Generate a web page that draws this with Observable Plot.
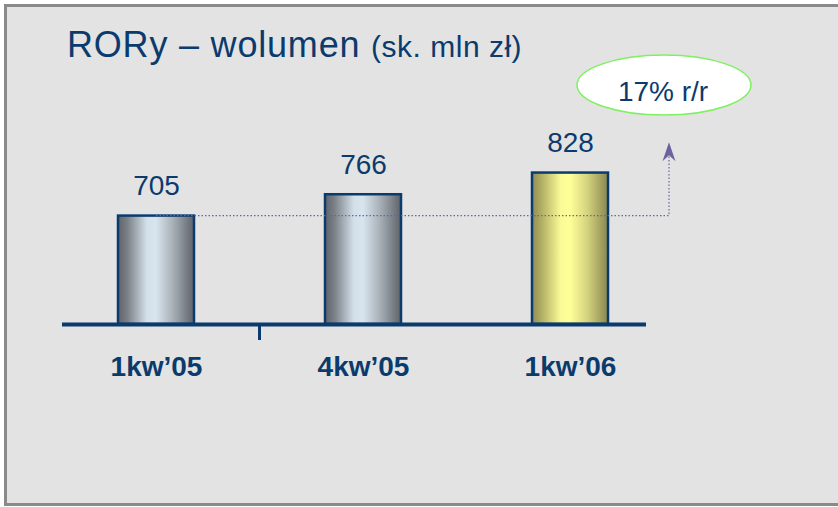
<!DOCTYPE html>
<html>
<head>
<meta charset="utf-8">
<script src="https://cdn.jsdelivr.net/npm/d3@7"></script>
<script src="https://cdn.jsdelivr.net/npm/@observablehq/plot@0.6"></script>
<style>
  html, body { margin: 0; padding: 0; background: #ffffff; }
  #wrap { position: relative; width: 838px; height: 507px; overflow: hidden; font-family: "Liberation Sans", Arial, sans-serif; }
  #panel { position: absolute; left: 4px; top: 4px; width: 840px; height: 502px; box-sizing: border-box;
           background: #e3e3e3; border-top: 3px solid #8a8a8a; border-left: 3px solid #8a8a8a; border-bottom: 3px solid #8a8a8a; }
  #title { position: absolute; left: 67px; top: 27px; font-size: 36px; line-height: 36px; color: #0b3b6d; white-space: nowrap; letter-spacing: 0.8px; }
  #title span { font-size: 30px; letter-spacing: 0.5px; }
  #chart { position: absolute; left: 0; top: 0; }
</style>
</head>
<body>
<div id="wrap">
  <div id="panel"></div>
  <div id="chart"></div>
  <div id="title">RORy – wolumen <span>(sk. mln zł)</span></div>
</div>
<script>
// ---- data ----
const categories = ["1kw’05", "4kw’05", "1kw’06"];
const volumes = [705, 766, 828];
const yBase = 395;          // value at the drawn baseline (axis does not start at 0)
const yTop = 1207;
const growthLabel = Math.round((volumes[2] / volumes[0] - 1) * 100) + "% r/r";

const navy = "#0b3b6d";
const data = categories.map((c, i) => ({cat: c, value: volumes[i]}));
const latest = categories[categories.length - 1];

const plot = Plot.plot({
  width: 838,
  height: 507,
  marginLeft: 62,
  marginRight: 192,
  marginTop: 40,
  marginBottom: 183,
  style: {background: "transparent", fontFamily: "'Liberation Sans', Arial, sans-serif", overflow: "visible"},
  x: {domain: categories, paddingInner: 0.633, paddingOuter: 0.227, align: 0.596, label: null},
  y: {domain: [yBase, yTop], axis: null},
  marks: [
    Plot.barY(data, {
      x: "cat", y1: yBase, y2: "value",
      fill: d => d.cat === latest ? "url(#gradYellow)" : "url(#gradGray)",
      stroke: navy, strokeWidth: 2.5
    }),
    Plot.ruleY([yBase], {stroke: navy, strokeWidth: 4}),
    Plot.text(data, {
      x: "cat", y: "value", text: d => String(d.value),
      lineAnchor: "bottom", dy: -21, fontSize: 28, fill: navy
    }),
    Plot.axisX({tickSize: 0, tickPadding: 32, fontSize: 28, fontWeight: "bold", fill: navy, label: null})
  ]
});

document.getElementById("chart").appendChild(plot);

// gradients for the cylinder-like bars
const svg = d3.select(plot);
const defs = svg.insert("defs", ":first-child");
function grad(id, stops) {
  const g = defs.append("linearGradient").attr("id", id).attr("x1", "0").attr("x2", "1").attr("y1", "0").attr("y2", "0");
  stops.forEach(([o, c]) => g.append("stop").attr("offset", o).attr("stop-color", c));
}
grad("gradGray", [[0, "#60646a"], [0.12, "#7a7f85"], [0.38, "#d3e0ea"], [0.5, "#d8e4ee"], [0.72, "#a9b1b8"], [1, "#5e6269"]]);
grad("gradYellow", [[0, "#8f8c52"], [0.12, "#b0ad64"], [0.38, "#fbfb96"], [0.5, "#ffff99"], [0.72, "#d6d57f"], [1, "#8a8750"]]);

// annotations positioned through the plot's own scales
const xs = plot.scale("x");
const ys = plot.scale("y");
const bw = xs.bandwidth;
const step = xs.step;
const xr = xs.range;
const ann = svg.append("g");

// separator tick between first and second category
const sepX = xs.apply(categories[1]) - (step - bw) / 2;
ann.append("line").attr("x1", sepX).attr("x2", sepX)
  .attr("y1", ys.apply(yBase)).attr("y2", ys.apply(yBase) + 16)
  .attr("stroke", navy).attr("stroke-width", 3);

// dotted reference line from first bar level, then up to an arrow
const refY = ys.apply(volumes[0]);
const x0 = xs.apply(categories[0]) + bw / 2;
const arrowX = xr[1] + 23;
const tipY = ys.apply(915);
ann.append("path")
  .attr("d", `M${x0},${refY}H${arrowX}V${tipY + 14}`)
  .attr("fill", "none").attr("stroke", "#6a63a6").attr("stroke-width", 1.2).attr("stroke-dasharray", "1.5,2");
ann.append("path")
  .attr("d", `M${arrowX},${tipY}L${arrowX + 6.5},${tipY + 19}L${arrowX},${tipY + 13}L${arrowX - 6.5},${tipY + 19}Z`)
  .attr("fill", "#6a63a0");

// growth ellipse
const ex = arrowX - 5;
const ey = ys.apply(1078);
ann.append("ellipse").attr("cx", ex).attr("cy", ey).attr("rx", 87).attr("ry", 30)
  .attr("fill", "#ffffff").attr("stroke", "#7ff060").attr("stroke-width", 1.5);
ann.append("text").attr("x", ex - 1).attr("y", ey + 16)
  .attr("text-anchor", "middle").attr("font-size", 28).attr("fill", navy)
  .attr("font-family", "'Liberation Sans', Arial, sans-serif")
  .text(growthLabel);
</script>
</body>
</html>
